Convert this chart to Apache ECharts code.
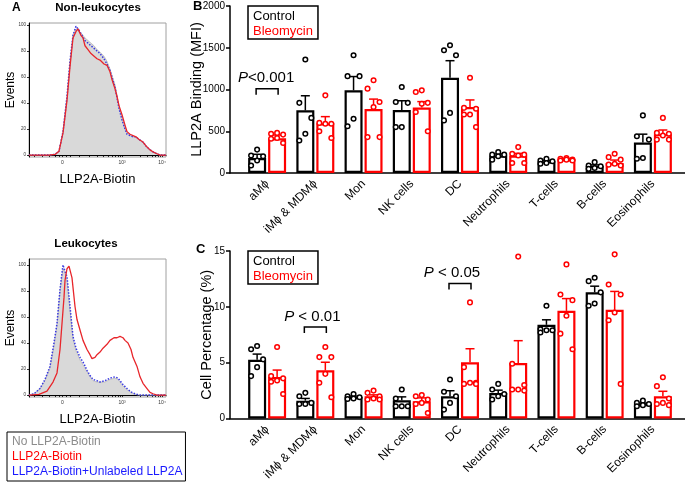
<!DOCTYPE html>
<html><head><meta charset="utf-8">
<script src="https://cdn.jsdelivr.net/npm/echarts@6/dist/echarts.min.js"></script>
<style>html,body{margin:0;padding:0;background:#fff}#c{width:685px;height:483px}</style>
</head><body><div id="c"></div><script>
const FONT = 'Liberation Sans, Arial, Helvetica, sans-serif';

// ---------- Panel A: histogram curves [position, % of max events] ----------
const nonLeukGray = [[0,0],[20,0],[26,0.5],[30,3],[34,18],[38,45],[41,72],[44,92],[47,97],[50,95],[53,93],[56,90],[59,88],[62,86],[65,84],[68,81],[71,79],[75,76],[78,72],[81,66],[83,61],[86,54],[88,46],[90,37],[93,28],[96,21],[98,17],[101,15],[104,14],[107,14],[110,12],[114,10],[117,7],[121,4],[125,2],[128,1],[131,0],[137,0]];
const nonLeukRed = [[0,0],[20,0],[26,0.5],[30,3],[34,17],[38,42],[41,68],[44,90],[47,95],[49,97],[52,92],[54,90],[56,84],[59,81],[62,78],[64,77],[68,74],[71,73],[75,70],[78,69],[81,64],[83,58],[86,51],[88,45],[90,38],[93,31],[96,23],[98,18],[101,16],[104,15],[107,14],[110,12],[114,10],[117,7],[121,4],[125,2],[128,1],[131,0],[137,0]];
const nonLeukBlue = [[0,0],[20,0],[26,0.5],[30,3],[34,18],[38,45],[41,72],[44,92],[47,99],[50,96],[53,92],[56,88],[59,86],[62,84],[65,82],[68,80],[71,78],[75,74],[78,70],[81,65],[83,60],[86,52],[88,44],[90,36],[93,27],[96,20],[98,16],[101,15],[104,14],[107,14],[110,12],[114,10],[117,7],[121,4],[125,2],[128,1],[131,0],[137,0]];
const leukGray = [[0,0],[5,1],[11,5],[16,11],[21,21],[25,38],[28,53],[31,80],[34,97],[36,94],[38,88],[41,65],[44,43],[47,34],[51,27],[55,22],[58,18],[61,14],[64,11],[68,10],[71,10],[76,10],[81,12],[86,13],[89,12],[91,10],[94,7],[98,4],[101,2.5],[104,1],[108,0.3],[111,0],[137,0]];
const leukRed = [[0,0],[10,0.5],[18,3],[24,10],[28,17],[31,35],[33,55],[35,75],[36,88],[38,97],[40,99],[43,90],[46,68],[48,58],[51,50],[54,42],[58,35],[61,31],[63,28],[66,29],[68,31],[71,33],[74,36],[78,39],[81,42],[85,44],[88,44],[91,45],[94,44],[96,42],[99,40],[102,35],[104,29],[108,22],[111,14],[114,9],[118,5],[121,2],[124,1],[128,0],[137,0]];
const leukBlue = [[0,0],[5,1],[11,5],[16,12],[21,22],[25,40],[28,55],[31,81],[34,100],[36,95],[38,91],[41,68],[44,45],[47,36],[51,29],[55,24],[58,19],[61,15],[64,12],[68,11],[71,10],[76,11],[81,13],[86,14],[89,13],[91,11],[94,8],[98,5],[101,3],[104,1.5],[108,0.5],[111,0],[137,0]];
const histTickPos = [5, 13, 20, 26, 30, 33.5, 37, 41, 50, 60, 68, 74, 79, 83, 86, 89, 91, 93, 111, 118, 123, 126, 129, 131, 133];
const histLabelPos = [33.5, 93, 133];
const histLabelText = ['0', '10³', '10⁴'];
const histYTicks = [0, 20, 40, 60, 80, 100];
const histSeriesNames = ['No LLP2A-Biotin', 'LLP2A-Biotin', 'LLP2A-Biotin+Unlabeled LLP2A'];

// ---------- Panels B & C ----------
const categories = ['aMϕ', 'iMϕ & MDMϕ', 'Mon', 'NK cells', 'DC', 'Neutrophils', 'T-cells', 'B-cells', 'Eosinophils'];
const groupNames = ['Control', 'Bleomycin'];

const mfiControlMean = [180, 750, 990, 755, 1140, 210, 140, 85, 365];
const mfiControlSem = [44, 175, 165, 110, 205, 18, 12, 12, 100];
const mfiBleoMean = [415, 595, 765, 785, 790, 210, 165, 120, 465];
const mfiBleoSem = [40, 80, 120, 70, 85, 25, 10, 35, 50];
const mfiControlPts = [
  [280, 210, 200, 150, 90],
  [1360, 840, 660, 470, 390],
  [1410, 1160, 1160, 650, 560],
  [1030, 850, 840, 550, 550],
  [1530, 1470, 1410, 720, 630],
  [250, 220, 220, 200, 160],
  [170, 150, 140, 120, 110],
  [130, 90, 80, 60, 50],
  [690, 440, 400, 180, 170]
];
const mfiBleoPts = [
  [480, 470, 460, 420, 410, 360],
  [930, 600, 590, 590, 500, 420],
  [1110, 1010, 850, 790, 430, 430],
  [990, 970, 840, 830, 730, 500],
  [1140, 780, 770, 700, 700, 550],
  [310, 230, 220, 210, 120, 120],
  [180, 170, 160, 160, 150, 150],
  [230, 190, 160, 110, 100, 90],
  [660, 480, 470, 450, 400, 400]
];
const mfiSig = [[0, 1010, '<0.001']];

const pctControlMean = [5.27, 1.6, 1.93, 1.64, 1.99, 2.29, 8.39, 11.3, 1.3];
const pctControlSem = [0.5, 0.2, 0.08, 0.3, 0.5, 0.25, 0.45, 0.55, 0.08];
const pctBleoMean = [3.72, 4.32, 2.0, 1.55, 5.03, 4.97, 9.64, 9.73, 1.99];
const pctBleoSem = [0.62, 0.72, 0.12, 0.3, 1.22, 2.0, 1.1, 1.65, 0.45];
const pctControlPts = [
  [6.5, 6.2, 5.3, 4.6, 3.8],
  [2.3, 2.0, 1.4, 1.3, 1.3],
  [2.2, 2.0, 1.9, 1.8, 1.75],
  [2.6, 1.8, 1.1, 1.1, 1.1],
  [3.5, 2.4, 2.0, 1.4, 0.8],
  [3.1, 2.6, 2.2, 2.0, 1.7],
  [10.1, 8.0, 7.9, 7.9, 7.7],
  [12.6, 12.3, 11.3, 10.3, 10.1],
  [1.6, 1.4, 1.3, 1.2, 1.1]
];
const pctBleoPts = [
  [6.4, 3.8, 3.6, 3.4, 3.3, 2.2],
  [6.4, 5.5, 5.5, 4.0, 3.2, 1.9],
  [2.5, 2.3, 2.0, 1.8, 1.7, 1.7],
  [2.1, 2.0, 1.7, 1.4, 1.3, 0.5],
  [10.4, 4.6, 3.2, 3.2, 3.1, 3.1],
  [14.5, 4.9, 3.0, 2.6, 2.6, 2.5],
  [13.8, 11.1, 10.6, 9.2, 7.6, 6.2],
  [14.7, 12.0, 11.1, 9.5, 8.8, 3.1],
  [3.7, 2.9, 1.8, 1.4, 1.3, 1.2]
];
const pctSig = [[1, 8.2, ' < 0.01'], [4, 12.1, ' < 0.05']];

// ---------- styles ----------
const RED = '#ff0000';
const BAR_W = 18, BAR_GAP = '11%', HALF_OFF = 10;
const JITTER = [0, -6, 6, 0, -6, 6];
const SIG_TEXT_DX = [-3, -8];

const chart = echarts.init(document.getElementById('c'), null, {renderer: 'canvas'});

function histGrid(top, height) { return {left: 29, top: top, width: 137, height: height, show: true, borderColor: '#a0a0a0', borderWidth: 1, backgroundColor: 'transparent'}; }
function histX(gi) {
  return {gridIndex: gi, type: 'value', min: 0, max: 137,
    name: 'LLP2A-Biotin', nameLocation: 'middle', nameGap: 16, nameMoveOverlap: false,
    nameTextStyle: {fontFamily: FONT, fontSize: 13, color: '#000'},
    axisLine: {show: true, lineStyle: {color: '#000', width: 1}},
    axisTick: {show: true, length: 2, customValues: histTickPos, lineStyle: {color: '#000', width: 0.8}},
    axisLabel: {show: true, customValues: histLabelPos, margin: 3, fontSize: 5, color: '#333', fontFamily: FONT,
      formatter: v => { const i = histLabelPos.indexOf(v); return i >= 0 ? histLabelText[i] : ''; }},
    splitLine: {show: false}};
}
function histY(gi, min, max) {
  return {gridIndex: gi, type: 'value', min: min, max: max,
    name: 'Events', nameLocation: 'middle', nameGap: 12, nameMoveOverlap: false,
    nameTextStyle: {fontFamily: FONT, fontSize: 12, color: '#000'},
    axisLine: {show: true, lineStyle: {color: '#000', width: 1}},
    axisTick: {show: true, length: 2, customValues: histYTicks, lineStyle: {color: '#000', width: 0.8}},
    axisLabel: {show: true, customValues: histYTicks, margin: 3, fontSize: 4.5, color: '#333', fontFamily: FONT},
    splitLine: {show: false}};
}
function histSeries(ax, gray, red, blue) {
  return [
    {type: 'line', name: histSeriesNames[0], xAxisIndex: ax, yAxisIndex: ax, data: gray, showSymbol: false, symbol: 'none',
      lineStyle: {color: '#b8b8b8', width: 0.8}, areaStyle: {color: '#d9d9d9', opacity: 1}, itemStyle: {color: '#999'}, z: 1},
    {type: 'line', name: histSeriesNames[2], xAxisIndex: ax, yAxisIndex: ax, data: blue, showSymbol: false, symbol: 'none',
      lineStyle: {color: '#3a3ae0', width: 1.5, type: 'dotted'}, itemStyle: {color: '#1a1aff'}, z: 2},
    {type: 'line', name: histSeriesNames[1], xAxisIndex: ax, yAxisIndex: ax, data: red, showSymbol: false, symbol: 'none',
      lineStyle: {color: '#e8262b', width: 1.3}, itemStyle: {color: RED}, z: 3}
  ];
}

function catX(gi) {
  return {gridIndex: gi, type: 'category', data: categories, boundaryGap: true,
    axisLine: {show: false}, axisTick: {show: false}, splitLine: {show: false},
    axisLabel: {interval: 0, rotate: 45, margin: 9, fontSize: 12, color: '#000', fontFamily: FONT}};
}
function lineX(gi) {
  return {gridIndex: gi, type: 'value', min: 0, max: 1,
    axisLine: {show: true, lineStyle: {color: '#000', width: 1.5}},
    axisTick: {show: false}, axisLabel: {show: false}, splitLine: {show: false}};
}
function valY(gi, max, interval, name, nameGap) {
  return {gridIndex: gi, type: 'value', min: 0, max: max, interval: interval, offset: 13,
    name: name, nameLocation: 'middle', nameGap: nameGap, nameMoveOverlap: false,
    nameTextStyle: {fontFamily: FONT, fontSize: 14.5, color: '#000'},
    axisLine: {show: true, lineStyle: {color: '#000', width: 1.5}},
    axisTick: {show: true, length: 4, lineStyle: {color: '#000', width: 1.5}},
    axisLabel: {fontSize: 10, color: '#000', margin: 5, fontFamily: FONT, formatter: v => String(v)},
    splitLine: {show: false}};
}

function errSeries(ax, mean, sem, color, dx) {
  return {type: 'custom', xAxisIndex: ax, yAxisIndex: ax, z: 5, silent: true,
    data: mean.map((m, i) => [i, m, sem[i]]),
    renderItem: (params, api) => {
      const b = api.coord([api.value(0), api.value(1)]);
      const t = api.coord([api.value(0), api.value(1) + api.value(2)]);
      const cx = b[0] + dx;
      const st = {stroke: color, lineWidth: 1.5};
      return {type: 'group', children: [
        {type: 'line', shape: {x1: cx, y1: b[1], x2: cx, y2: t[1]}, style: st},
        {type: 'line', shape: {x1: cx - 4.5, y1: t[1], x2: cx + 4.5, y2: t[1]}, style: st}
      ]};
    }};
}
function dotSeries(ax, pts, color, dx) {
  const data = [];
  pts.forEach((arr, i) => arr.forEach((v, j) => data.push([i, v, j])));
  return {type: 'custom', xAxisIndex: ax, yAxisIndex: ax, z: 6, silent: true, clip: false,
    data: data,
    renderItem: (params, api) => {
      const p = api.coord([api.value(0), api.value(1)]);
      return {type: 'circle', shape: {cx: p[0] + dx + JITTER[api.value(2)], cy: p[1], r: 2.3},
        style: {fill: '#fff', stroke: color, lineWidth: 1.5}};
    }};
}
function sigSeries(ax, sig, fontSize, textDx) {
  return {type: 'custom', xAxisIndex: ax, yAxisIndex: ax, z: 7, silent: true, clip: false,
    data: sig.map(s => [s[0], s[1]]),
    renderItem: (params, api) => {
      const p = api.coord([api.value(0), api.value(1)]);
      const st = {stroke: '#000', lineWidth: 1.5, fill: null};
      return {type: 'group', children: [
        {type: 'polyline', shape: {points: [[p[0] - 11, p[1] + 6], [p[0] - 11, p[1]], [p[0] + 11, p[1]], [p[0] + 11, p[1] + 6]]}, style: st},
        {type: 'text', x: p[0] + textDx[params.dataIndex], y: p[1] - 3, style: {text: '{i|P}{n|' + sig[params.dataIndex][2] + '}',
          align: 'center', verticalAlign: 'bottom',
          rich: {i: {fontStyle: 'italic', fontSize: fontSize, fontFamily: FONT, fill: '#000'},
                 n: {fontSize: fontSize, fontFamily: FONT, fill: '#000'}}}}
      ]};
    }};
}
function barSeries(ax, name, data, color) {
  return {type: 'bar', name: name, xAxisIndex: ax, yAxisIndex: ax, data: data, barWidth: BAR_W, barGap: BAR_GAP,
    itemStyle: {color: '#fff', borderColor: color, borderWidth: 2.2}, z: 3, silent: true};
}
function barLegend(top) {
  return {left: 248, top: top, orient: 'vertical', icon: 'none', itemWidth: 0, itemHeight: 13, itemGap: 2,
    padding: [4, 5, 1, 0], borderColor: '#000', borderWidth: 1.5, selectedMode: false,
    textStyle: {fontSize: 13, fontFamily: FONT},
    data: [{name: groupNames[0], textStyle: {color: '#000'}}, {name: groupNames[1], textStyle: {color: RED}}]};
}

const option = {
  animation: false,
  backgroundColor: '#fff',
  textStyle: {fontFamily: FONT},
  grid: [
    histGrid(23, 134),
    histGrid(259, 138),
    {left: 243, top: 6, width: 434, height: 167},
    {left: 230, top: 6, width: 455, height: 167},
    {left: 243, top: 251, width: 434, height: 168},
    {left: 230, top: 251, width: 455, height: 168}
  ],
  xAxis: [histX(0), histX(1), catX(2), lineX(3), catX(4), lineX(5)],
  yAxis: [histY(0, -1.5, 101.5), histY(1, -1.5, 104.5),
    valY(2, 2000, 500, 'LLP2A Binding (MFI)', 26),
    {gridIndex: 3, show: false, min: 0, max: 1},
    valY(4, 15, 5, 'Cell Percentage (%)', 16),
    {gridIndex: 5, show: false, min: 0, max: 1}],
  legend: [
    barLegend(6), barLegend(251),
    {left: 7, top: 432, height: 60, orient: 'vertical', icon: 'none', itemWidth: 0, itemHeight: 12, itemGap: 0,
      padding: [2, 3, 2, 0], borderColor: '#000', borderWidth: 1, selectedMode: false,
      textStyle: {fontSize: 12, fontFamily: FONT, lineHeight: 15},
      data: [{name: histSeriesNames[0], textStyle: {color: '#8c8c8c'}},
             {name: histSeriesNames[1], textStyle: {color: RED}},
             {name: histSeriesNames[2], textStyle: {color: '#1a1aff'}}]}
  ],
  graphic: [
    {type: 'text', x: 12, y: 2, style: {text: 'A', font: 'bold 12px ' + FONT, fill: '#000'}},
    {type: 'text', x: 98, y: 8, style: {text: 'Non-leukocytes', font: 'bold 11.5px ' + FONT, fill: '#000', align: 'center', verticalAlign: 'middle'}},
    {type: 'text', x: 86, y: 244, style: {text: 'Leukocytes', font: 'bold 11.5px ' + FONT, fill: '#000', align: 'center', verticalAlign: 'middle'}},
    {type: 'text', x: 193, y: 0, style: {text: 'B', font: 'bold 13px ' + FONT, fill: '#000'}},
    {type: 'text', x: 196, y: 243, style: {text: 'C', font: 'bold 13px ' + FONT, fill: '#000'}}
  ],
  series: [
    ...histSeries(0, nonLeukGray, nonLeukRed, nonLeukBlue),
    ...histSeries(1, leukGray, leukRed, leukBlue),
    barSeries(2, groupNames[0], mfiControlMean, '#000'),
    barSeries(2, groupNames[1], mfiBleoMean, RED),
    errSeries(2, mfiControlMean, mfiControlSem, '#000', -HALF_OFF),
    errSeries(2, mfiBleoMean, mfiBleoSem, RED, HALF_OFF),
    dotSeries(2, mfiControlPts, '#000', -HALF_OFF),
    dotSeries(2, mfiBleoPts, RED, HALF_OFF),
    sigSeries(2, mfiSig, 15, [-1]),
    barSeries(4, groupNames[0], pctControlMean, '#000'),
    barSeries(4, groupNames[1], pctBleoMean, RED),
    errSeries(4, pctControlMean, pctControlSem, '#000', -HALF_OFF),
    errSeries(4, pctBleoMean, pctBleoSem, RED, HALF_OFF),
    dotSeries(4, pctControlPts, '#000', -HALF_OFF),
    dotSeries(4, pctBleoPts, RED, HALF_OFF),
    sigSeries(4, pctSig, 15, SIG_TEXT_DX)
  ]
};
chart.setOption(option);
</script></body></html>
